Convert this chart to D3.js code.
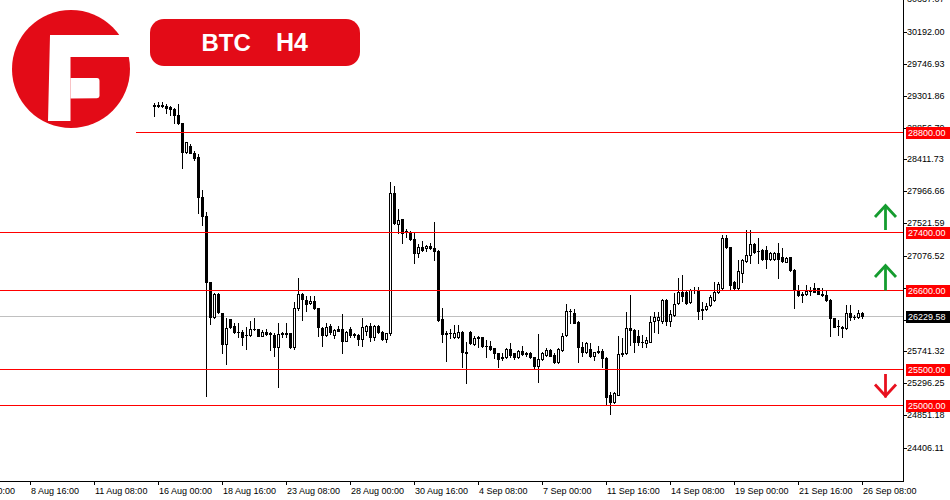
<!DOCTYPE html>
<html><head><meta charset="utf-8">
<script src="https://cdn.jsdelivr.net/npm/d3@7"></script>
<style>html,body{margin:0;padding:0;background:#fff;overflow:hidden}svg{display:block}</style>
</head><body><svg id="c" width="950" height="500"></svg>
<script>
// ---- data (BTC H4 candles) ----
const opens=[29155,29168,29173,29159,29137,29109,29030,28914,28519,28599,28505,28450,27886,27630,26704,26218,26537,26273,25846,26194,
26097,26017,26017,25970,25967,26051,26051,25962,26009,25985,25976,25809,25985,25995,25995,25800,26343,26537,26458,26412,
26448,26343,26065,25972,26097,25972,26055,26051,25892,26051,25975,25972,25912,26031,26101,25948,26097,26017,25912,25995,
27941,27514,27580,27400,27407,27302,27107,27190,27177,27208,27177,27143,26190,25985,25995,25948,25940,26009,25735,26009,
25846,25930,25940,25819,25819,25787,25717,25655,25661,25777,25717,25661,25749,25703,25717,25661,25541,25638,25693,25763,
25693,25592,25763,25972,26300,26281,26156,25809,25739,25773,25680,25740,25753,25656,25138,25044,25138,25725,25717,26065,
26041,25958,25870,25865,25878,26170,26175,26170,26458,26170,26250,26412,26569,26569,26434,26597,26597,26315,26329,26388,
26458,26573,26625,27316,27190,26708,26621,26829,27004,27084,27236,27135,27153,27153,27024,27024,27115,27052,26990,27052,
26875,26597,26530,26541,26583,26621,26621,26541,26528,26458,26204,26090,26087,26065,26273,26220,26218,26281];
const highs=[29200,29206,29206,29178,29159,29123,29182,28922,28658,28622,28529,28483,27987,27677,26712,26551,26551,26280,26204,26200,
26134,26134,26041,26078,26170,26208,26060,26041,26051,26017,25995,26138,26017,26134,26003,26434,26760,26551,26518,26518,
26518,26350,26087,26134,26120,26059,26097,26259,26027,26078,26003,25980,26212,26110,26134,26110,26110,26025,26003,28094,
28047,27719,27590,27441,27417,27407,27236,27282,27222,27254,27546,27153,26351,26027,26051,26110,26110,26027,25878,26027,
25962,25962,25948,25902,25892,25795,25725,25717,25787,25856,25725,25763,25819,25739,25739,25670,25985,25731,25787,25773,
25717,25787,25995,26398,26329,26329,26165,25878,25878,25856,25739,25823,25773,25670,25183,25183,25958,25934,26295,26528,
26050,26041,25972,25948,26236,26295,26295,26472,26465,26319,26551,26764,26806,26587,26607,26640,26643,26434,26416,26528,
26712,26712,27362,27362,27200,26720,27014,27024,27431,27431,27245,27316,27160,27208,27129,27129,27246,27177,27052,27060,
26885,26666,26573,26666,26643,26690,26630,26621,26587,26468,26212,26180,26097,26388,26388,26250,26319,26295];
const lows=[29020,29137,29145,29061,29030,28914,28905,28297,28497,28497,28404,27663,27500,25128,26120,26204,26280,25725,25568,26073,
26003,25940,25832,25773,25962,26041,25955,25955,25972,25763,25684,25253,25948,25948,25795,25777,26319,26180,26305,26398,
26335,25958,25823,25958,25985,25926,26025,25725,25885,25944,25940,25832,25823,25972,25892,25902,25995,25902,25878,25972,
27515,27385,27246,27338,27295,26976,27060,27145,27139,27170,27014,26170,25878,25614,25926,25926,25930,25531,25300,25846,
25832,25809,25809,25670,25763,25647,25522,25624,25647,25670,25634,25656,25693,25684,25647,25509,25322,25624,25684,25675,
25578,25578,25753,25962,26134,26135,25600,25680,25725,25670,25624,25717,25522,24999,24869,25022,25130,25680,25707,25832,
25739,25832,25809,25809,25870,26017,26000,26134,26110,26097,26236,26402,26444,26405,26420,26555,26190,26190,26319,26375,
26440,26559,26597,27180,26597,26611,26611,26712,26990,26968,27115,26968,27015,26899,27014,27015,26760,26990,26982,26865,
26343,26520,26434,26528,26528,26565,26535,26514,26448,25962,26078,25972,25948,26055,26180,26194,26204,26212];
const closes=[29168,29150,29155,29123,29109,29030,28914,28519,28650,28505,28436,27886,27630,26704,26226,26537,26287,25846,26065,26087,
26017,26010,25948,25976,26051,26060,25962,26013,25985,25995,25809,25985,25995,25990,25800,26343,26537,26472,26402,26444,
26343,26078,25972,26078,26009,26041,26031,25888,26009,25972,25981,25912,26078,26097,25940,26097,26017,25912,25995,27941,
27524,27570,27385,27417,27302,27107,27190,27153,27208,27177,27143,26180,25981,26000,25999,26003,26009,25739,25725,25856,
25926,25948,25819,25815,25777,25717,25638,25661,25773,25693,25661,25749,25703,25717,25670,25541,25634,25717,25763,25684,
25592,25777,25962,26305,26305,26143,25809,25739,25856,25680,25731,25749,25656,25114,25044,25161,25707,25707,26065,26041,
25878,25878,25878,25902,26156,26226,26226,26458,26170,26263,26402,26569,26514,26412,26597,26600,26309,26329,26375,26495,
26573,26680,27316,27190,26666,26621,26865,27014,27084,27236,27129,27143,27024,27024,27107,27107,27024,27004,27038,26875,
26597,26528,26541,26583,26590,26573,26541,26528,26458,26204,26087,26097,26065,26273,26226,26226,26281,26229.58];

const priceTickLabels=["24406.11","24851.18","25296.25","25741.32","26186.38","26631.45","27076.52","27521.59",
"27966.66","28411.73","28856.79","29301.86","29746.93","30192.00","30637.07"];
const timeLabels=["4 Aug 00:00","8 Aug 16:00","11 Aug 08:00","16 Aug 00:00","18 Aug 16:00","23 Aug 08:00","28 Aug 00:00",
"30 Aug 16:00","4 Sep 08:00","7 Sep 00:00","11 Sep 16:00","14 Sep 08:00","19 Sep 00:00","21 Sep 16:00","26 Sep 08:00"];
const firstTimeLabelBar=-47, timeLabelStep=16;
const levels=[28800,27400,26600,25500,25000];
const bidPrice=26229.58;
const title=["BTC","H4"];

// ---- drawing ----
const svg=d3.select("#c");
const FONT="'Liberation Sans', Arial, sans-serif";
const RED="#ff0000", BRAND="#e30b17";
const plotR=903, plotB=481;
const n=opens.length;
const x=d3.scaleLinear().domain([0,n-1]).range([154.3,862.3]);
const y=d3.scaleLinear().domain([24406.11,30192.00]).range([447.5,31.5]);

// bid line (behind candles)
const by=Math.round(y(bidPrice));
svg.append("rect").attr("x",0).attr("y",by).attr("width",plotR).attr("height",1).attr("fill","#c0c0c0");

// candles
const cg=svg.append("g").attr("shape-rendering","crispEdges");
d3.range(n).forEach(i=>{
  const cx=Math.round(x(i));
  const yh=Math.round(y(highs[i])), yl=Math.round(y(lows[i]));
  const yo=Math.round(y(opens[i])), yc=Math.round(y(closes[i]));
  cg.append("rect").attr("x",cx).attr("y",yh).attr("width",1).attr("height",Math.max(1,yl-yh+1)).attr("fill","#000");
  const top=Math.min(yo,yc), bot=Math.max(yo,yc);
  if(bot===top){
    cg.append("rect").attr("x",cx-1).attr("y",top).attr("width",3).attr("height",1).attr("fill","#000");
  } else if(closes[i]>opens[i]){
    cg.append("rect").attr("x",cx-0.5).attr("y",top+0.5).attr("width",2).attr("height",bot-top)
      .attr("fill","#fff").attr("stroke","#000").attr("stroke-width",1);
  } else {
    cg.append("rect").attr("x",cx-1).attr("y",top).attr("width",3).attr("height",bot-top+1).attr("fill","#000");
  }
});

// level lines (foreground)
const lg=svg.append("g").attr("shape-rendering","crispEdges");
levels.forEach(v=>{
  const ly=Math.round(y(v));
  const x0 = v===28800 ? 136 : 0;
  lg.append("rect").attr("x",x0).attr("y",ly).attr("width",plotR-x0).attr("height",1).attr("fill",RED);
});

// axes
const ag=svg.append("g").attr("shape-rendering","crispEdges");
ag.append("rect").attr("x",plotR).attr("y",0).attr("width",1).attr("height",plotB+1).attr("fill","#000");
ag.append("rect").attr("x",0).attr("y",plotB).attr("width",plotR+1).attr("height",1).attr("fill","#000");

priceTickLabels.forEach(s=>{
  const py=Math.round(y(+s));
  ag.append("rect").attr("x",plotR).attr("y",py).attr("width",4).attr("height",1).attr("fill","#000");
  svg.append("text").attr("x",907).attr("y",py-0.5).attr("dy","0.35em")
    .attr("font-family",FONT).attr("font-size",9).attr("fill","#000").text(s);
});
timeLabels.forEach((s,i)=>{
  const tx=Math.round(x(firstTimeLabelBar+i*timeLabelStep));
  ag.append("rect").attr("x",tx).attr("y",plotB).attr("width",1).attr("height",4).attr("fill","#000");
  svg.append("text").attr("x",tx+1).attr("y",494)
    .attr("font-family",FONT).attr("font-size",9).attr("fill","#000").text(s);
});

// price labels on the axis
function axisLabel(v,bg){
  const ly=Math.round(y(v));
  svg.append("rect").attr("x",906).attr("y",ly-5).attr("width",44).attr("height",12).attr("fill",bg);
  svg.append("text").attr("x",908).attr("y",ly+1).attr("dy","0.35em")
    .attr("font-family",FONT).attr("font-size",9).attr("fill","#fff").text(v.toFixed(2));
}
levels.forEach(v=>axisLabel(v,RED));
axisLabel(bidPrice,"#000");

// arrows
function arrow(yTop,yBot,up,col){
  const g=svg.append("g").attr("fill","none").attr("stroke",col).attr("stroke-width",2.8).attr("stroke-linejoin","miter");
  g.append("line").attr("x1",885.5).attr("x2",885.5).attr("y1",yTop+1).attr("y2",yBot);
  if(up) g.append("path").attr("d",`M875,${yTop+13} L885.5,${yTop+1.5} L896,${yTop+13}`);
  else g.append("path").attr("d",`M875,${yBot-13} L885.5,${yBot-1.5} L896,${yBot-13}`);
}
arrow(204,230,true,"#159c2f");
arrow(264,290.5,true,"#159c2f");
arrow(373,397.5,false,"#e8101e");

// logo
const logo=svg.append("g");
logo.append("circle").attr("cx",71).attr("cy",69).attr("r",59).attr("fill",BRAND);
logo.append("path").attr("fill","#fff")
  .attr("d","M50,35 L134,35 L134,57 L70.5,57 L70.5,121 L48,121 Z");
logo.append("path").attr("fill","#fff")
  .attr("d","M70.5,78 L97,78 Q99.5,78 99.5,81 L99.5,96 Q99.5,98 97,98.3 L70.5,98.6 Z");

// title pill
svg.append("rect").attr("x",150).attr("y",19).attr("width",210).attr("height",47).attr("rx",14).attr("fill",BRAND);
svg.append("text").attr("x",201.5).attr("y",51).attr("font-family",FONT).attr("font-weight","bold")
  .attr("font-size",24).attr("fill","#fff").text(title[0]);
svg.append("text").attr("x",276).attr("y",51).attr("font-family",FONT).attr("font-weight","bold")
  .attr("font-size",25).attr("fill","#fff").text(title[1]);
</script></body></html>
